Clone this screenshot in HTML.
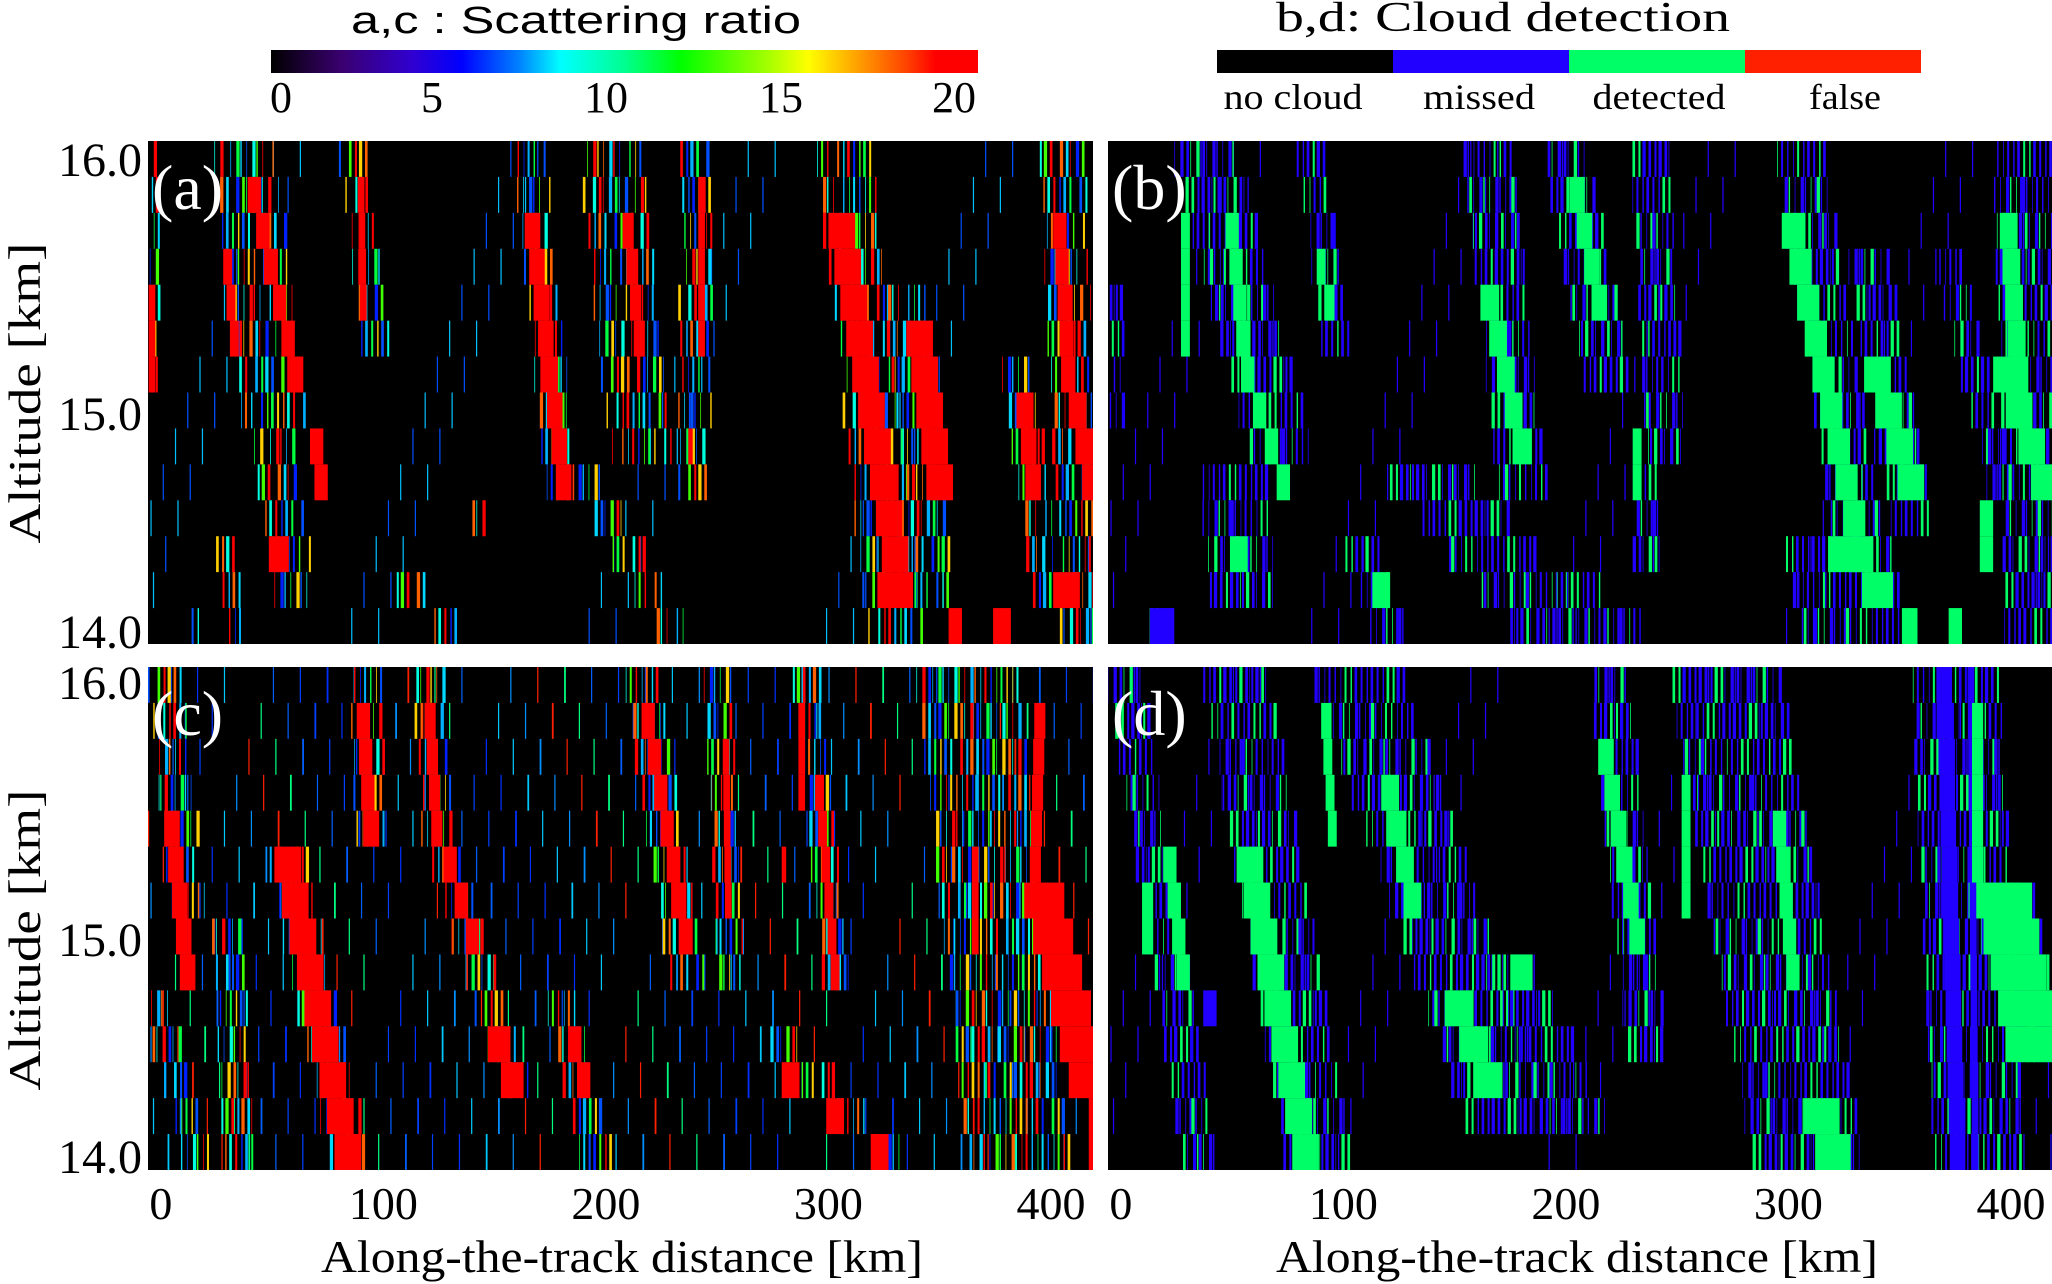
<!DOCTYPE html>
<html><head><meta charset="utf-8"><style>
html,body{margin:0;padding:0;background:#fff;}
svg{display:block;}
text{font-family:"Liberation Serif",serif;fill:#000;}
</style></head><body>
<svg id="fig" xmlns="http://www.w3.org/2000/svg" width="2052" height="1284" viewBox="0 0 2052 1284">
<defs>
<linearGradient id="rainbow" x1="0" x2="1" y1="0" y2="0">
<stop offset="0" stop-color="#000000"/><stop offset="0.1" stop-color="#3a0070"/><stop offset="0.2" stop-color="#3000d0"/>
<stop offset="0.27" stop-color="#0000ff"/><stop offset="0.35" stop-color="#0080ff"/><stop offset="0.41" stop-color="#00ffff"/>
<stop offset="0.5" stop-color="#00ff90"/><stop offset="0.58" stop-color="#00ff00"/><stop offset="0.7" stop-color="#a0ff00"/>
<stop offset="0.76" stop-color="#ffff00"/><stop offset="0.83" stop-color="#ffa000"/><stop offset="0.9" stop-color="#ff4000"/>
<stop offset="0.94" stop-color="#ff0000"/><stop offset="1" stop-color="#ff0000"/>
</linearGradient>
<clipPath id="clipL"><rect x="0" y="0" width="945" height="503"/></clipPath>
</defs>
<rect x="0" y="0" width="2052" height="1284" fill="#fff"/>

<g>
<text x="576" y="33" font-size="38" text-anchor="middle" textLength="450" lengthAdjust="spacingAndGlyphs" style="font-family:'Liberation Sans',sans-serif">a,c : Scattering ratio</text>
<rect x="271" y="50" width="707" height="23" fill="url(#rainbow)"/>
<text x="281" y="112" font-size="44" text-anchor="middle">0</text>
<text x="432" y="112" font-size="44" text-anchor="middle">5</text>
<text x="606" y="112" font-size="44" text-anchor="middle">10</text>
<text x="781" y="112" font-size="44" text-anchor="middle">15</text>
<text x="954" y="112" font-size="44" text-anchor="middle">20</text>
</g>
<g>
<text x="1503" y="31" font-size="42" text-anchor="middle" textLength="454" lengthAdjust="spacingAndGlyphs">b,d: Cloud detection</text>
<rect x="1217" y="50" width="177" height="23" fill="#000"/>
<rect x="1393" y="50" width="177" height="23" fill="#2200ff"/>
<rect x="1569" y="50" width="177" height="23" fill="#00ff66"/>
<rect x="1745" y="50" width="176" height="23" fill="#ff2000"/>
<text x="1293" y="109" font-size="36" text-anchor="middle" textLength="139" lengthAdjust="spacingAndGlyphs">no cloud</text>
<text x="1479" y="109" font-size="36" text-anchor="middle" textLength="112" lengthAdjust="spacingAndGlyphs">missed</text>
<text x="1659" y="109" font-size="36" text-anchor="middle" textLength="133" lengthAdjust="spacingAndGlyphs">detected</text>
<text x="1845" y="109" font-size="36" text-anchor="middle" textLength="72" lengthAdjust="spacingAndGlyphs">false</text>
</g>

<g>
<text x="142" y="176" font-size="48" text-anchor="end" textLength="84" lengthAdjust="spacingAndGlyphs">16.0</text>
<text x="142" y="430" font-size="48" text-anchor="end" textLength="84" lengthAdjust="spacingAndGlyphs">15.0</text>
<text x="142" y="648" font-size="48" text-anchor="end" textLength="84" lengthAdjust="spacingAndGlyphs">14.0</text>
<text transform="translate(40,393) rotate(-90)" font-size="46" text-anchor="middle" textLength="301" lengthAdjust="spacingAndGlyphs">Altitude [km]</text>
</g>
<g>
<text x="142" y="699" font-size="48" text-anchor="end" textLength="84" lengthAdjust="spacingAndGlyphs">16.0</text>
<text x="142" y="956" font-size="48" text-anchor="end" textLength="84" lengthAdjust="spacingAndGlyphs">15.0</text>
<text x="142" y="1173" font-size="48" text-anchor="end" textLength="84" lengthAdjust="spacingAndGlyphs">14.0</text>
<text transform="translate(40,940) rotate(-90)" font-size="46" text-anchor="middle" textLength="301" lengthAdjust="spacingAndGlyphs">Altitude [km]</text>
</g>
<g id="xaxes"></g>
<text x="622" y="1272" font-size="46" text-anchor="middle" textLength="602" lengthAdjust="spacingAndGlyphs">Along-the-track distance [km]</text>
<text x="1577" y="1272" font-size="46" text-anchor="middle" textLength="602" lengthAdjust="spacingAndGlyphs">Along-the-track distance [km]</text>

<g id="panels"></g>
</svg>
<script>
// streak format: [rowStart, rowEnd, kmAtStartRow, kmAtEndRow, widthKm]; rows 0 = top (16.0 km) .. 13 = bottom (14.0 km)
var xTicks = [0, 100, 200, 300, 400];
var kmMin = -5.8, kmMax = 418.9, nRows = 14;

var speckleA = [[0,7,38,50,28],[0,5,86,96,12],[0,9,166,180,15],[0,8,202,215,28],[0,9,240,240,15],[0,13,307,330,26],[4,12,335,345,20],[0,13,405,414,20],[6,12,385,398,14],[9,13,192,228,14],[8,12,50,60,18],[12,13,112,128,12],[10,10,143,143,6],[0,6,-3,-3,4],[13,13,15,15,6],[11,13,28,32,10]];
var coreA = [[1,6,42,61,6],[3,5,30,33,4],[8,9,70,72,6],[11,11,53,53,9],[1,4,90,91,3],[2,9,167,181,7],[2,5,210,215,5],[1,5,243,243,3],[8,8,238,238,2],[2,11,306,330,12],[5,9,341,350,12],[12,12,330,330,16],[13,13,357,357,6],[13,13,378,378,8],[2,6,404,408,6],[7,9,412,418,8],[7,9,388,392,7],[12,12,407,407,12],[4,6,-4,-4,3]];

var speckleB = [[0,8,38,71,28],[0,5,85,96,12],[0,9,165,180,22],[0,6,200,218,20],[0,8,238,245,18],[0,10,305,330,22],[11,13,322,330,48],[3,10,336,355,18],[0,13,405,410,26],[3,9,372,395,12],[4,7,-2,-2,6],[9,12,50,55,30],[11,13,108,120,16],[9,13,140,195,40],[9,11,236,236,12],[12,13,205,225,20],[13,13,18,18,12]];
var coreB = [[2,6,50,57,6],[2,5,29,29,4],[6,9,57,73,6],[3,4,90,94,4],[4,8,166,180,8],[1,4,205,215,7],[8,9,232,232,4],[2,11,302,333,10],[6,9,340,355,12],[2,7,399,405,8],[6,9,398,415,12],[11,12,325,340,14],[13,13,355,355,6],[13,13,375,375,6],[11,11,53,53,8],[12,12,117,117,8],[10,11,389,389,6]];
var missedB = [[13,13,18,18,10],[11,11,330,330,6]];

var speckleC = [[0,13,362,385,45],[0,6,2,12,16],[0,4,92,94,14],[0,4,120,124,14],[5,11,128,158,14],[0,8,216,236,16],[0,8,250,256,12],[0,8,290,303,12],[9,13,180,195,14],[10,13,280,325,14],[5,13,57,84,18],[7,13,30,35,14],[9,13,-2,15,12]];
var coreC = [[1,4,91,94,6],[1,4,121,124,5],[5,7,130,140,6],[10,11,152,158,10],[1,7,219,236,6],[2,6,254,255,3],[5,5,280,280,2],[1,3,288,288,3],[3,8,296,303,4],[10,11,186,190,6],[11,13,283,323,8],[4,8,5,12,7],[5,13,57,84,12],[1,5,395,393,5],[6,11,397,417,18],[12,13,420,420,6],[5,7,366,366,3]];

var speckleD = [[0,13,2,35,16],[0,13,52,88,30],[0,12,107,174,40],[0,10,220,236,18],[0,13,272,308,50],[0,13,375,385,40],[6,10,395,415,30],[8,12,175,205,26]];
var coreD = [[5,13,58,83,12],[1,4,92,95,4],[3,6,121,131,8],[9,11,152,165,13],[2,7,218,232,7],[3,6,254,254,4],[4,8,296,302,6],[12,13,315,320,16],[6,10,397,410,25],[1,5,385,385,5],[8,8,180,180,10],[5,8,22,28,6],[6,7,12,12,5]];
var missedD = [[0,13,370,376,7],[0,13,382,384,3],[9,9,40,40,6]];

var NS = "http://www.w3.org/2000/svg";
var panelW = 945, panelH = 503;
var panelsG = document.getElementById('panels');
var xaxes = document.getElementById('xaxes');
function xScale(km){ return (km - kmMin) / (kmMax - kmMin) * panelW; }
function yScale(row){ return row * panelH / nRows; }
function mk(tag, attrs, parent){ var e = document.createElementNS(NS, tag); for (var k in attrs) e.setAttribute(k, attrs[k]); parent.appendChild(e); return e; }

var palAC = ['#0050ff','#00b0ff','#00ffe0','#00ff40','#ff0000','#ffd000','#0020ff','#ff6000','#40ff00','#00d8ff','#ff0000'];
var palC2 = ['#0040ff','#0090ff','#0060ff','#00c8ff','#00ff80','#0030ff','#ff2000'];
var palBD = ['#2200ff','#00ff66','#2200ff','#2200ff','#00ff66','#2200ff','#1a00ff'];

function drawPanel(id, px, py, speckles, cores, coreColor, missed, pal, density, bgPal, bgDensity, label){
  var g = mk('g', {transform: 'translate(' + px + ',' + py + ')', 'clip-path': 'url(#clipL)'}, panelsG);
  
  
  var bg = mk('rect', {x: 0, y: 0, width: panelW, height: panelH, fill: '#000'}, g);
  
  
  var rh = panelH / nRows;
  if (bgDensity > 0) {
    for (var r = 0; r < nRows; r++) {
      var i = 0;
      for (var k = kmMin; k < kmMax; k += 1.1, i++) {
        var h = (i * 53 + r * 71 + 13) % 97;
        if (h < bgDensity) {
          var s = mk('rect', {x: xScale(k), y: yScale(r), width: Math.max(1.2, (0.3 + (h % 3) * 0.25) * 2.225), height: rh, fill: bgPal[(h + i) % bgPal.length]}, g);
          
          
        }
      }
    }
  }
  speckles.forEach(function(st, si){
    for (var r = st[0]; r <= st[1]; r++) {
      var t = st[1] > st[0] ? (r - st[0]) / (st[1] - st[0]) : 0;
      var c = st[2] + (st[3] - st[2]) * t, w = st[4];
      var i = 0;
      for (var k = c - w / 2; k < c + w / 2; k += 0.9, i++) {
        var h = (i * 37 + r * 59 + si * 17 + 5) % 97;
        if (h < density) {
          var s = mk('rect', {x: xScale(k), y: yScale(r), width: (0.35 + (h % 5) * 0.28) * 2.225, height: rh, fill: pal[(h * 7 + i) % pal.length]}, g);
          
          
        }
      }
    }
  });
  function solid(list, color, nm){
    list.forEach(function(st){
      for (var r = st[0]; r <= st[1]; r++) {
        var t = st[1] > st[0] ? (r - st[0]) / (st[1] - st[0]) : 0;
        var c = st[2] + (st[3] - st[2]) * t, w = st[4];
        var s = mk('rect', {x: xScale(c - w / 2), y: yScale(r), width: xScale(c + w / 2) - xScale(c - w / 2), height: rh, fill: color}, g);
        
        
      }
    });
  }
  if (missed) solid(missed, '#2200ff', 'cell-missed');
  solid(cores, coreColor, 'cell-core');
  var lb = mk('text', {x: 4, y: 68, 'font-size': 64, fill: '#fff', style: 'fill:#fff'}, g);
  lb.textContent = label;
  
  
}

drawPanel('a', 148, 141, speckleA, coreA, '#ff0000', null, palAC, 32, ['#0050ff','#00c0ff'], 2, '(a)');
drawPanel('b', 1108, 141, speckleB, coreB, '#00ff66', missedB, palBD, 40, ['#2200ff'], 2, '(b)');
drawPanel('c', 148, 667, speckleC, coreC, '#ff0000', null, palAC, 36, palC2, 8, '(c)');
drawPanel('d', 1108, 667, speckleD, coreD, '#00ff66', missedD, palBD, 40, ['#2200ff'], 2, '(d)');

[148, 1108].forEach(function(px, j){
  xTicks.forEach(function(v){
    var t = mk('text', {x: px + xScale(v), y: 1219, 'font-size': 46, 'text-anchor': 'middle'}, xaxes);
    t.textContent = String(v);
    
    
  });
});
</script>
</body></html>
